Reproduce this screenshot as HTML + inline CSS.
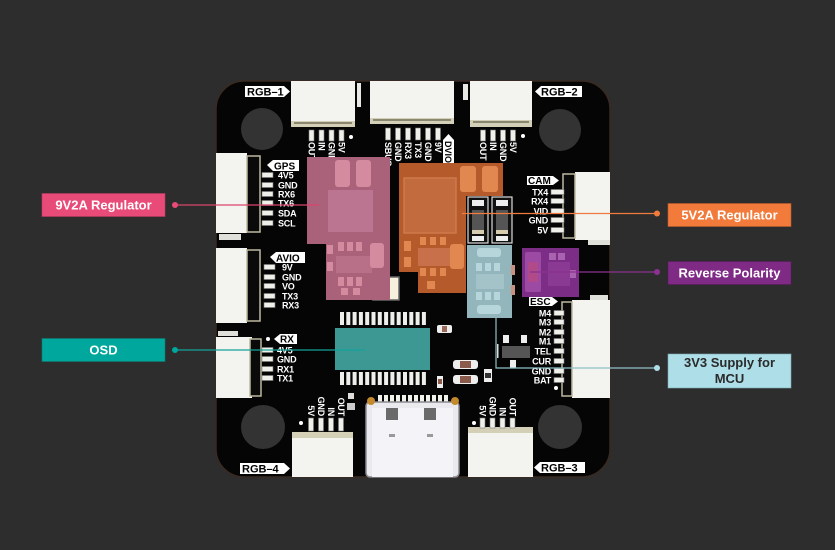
<!DOCTYPE html>
<html><head><meta charset="utf-8"><style>
html,body{margin:0;padding:0;background:#2d2d2d;}
svg{display:block}
.p{font-family:"Liberation Sans",sans-serif;font-weight:bold;font-size:9px;fill:#fff;letter-spacing:-0.2px}
.lb{font-family:"Liberation Sans",sans-serif;font-weight:bold;font-size:10px;fill:#000}
.c{font-family:"Liberation Sans",sans-serif;font-weight:bold;font-size:13px;fill:#fff}
</style></head><body>
<svg width="835" height="550" viewBox="0 0 835 550" xmlns="http://www.w3.org/2000/svg">
<rect width="835" height="550" fill="#2d2d2d"/>
<!-- board -->
<rect x="216" y="81" width="394" height="396" rx="28" fill="#050505" stroke="#3a2a22" stroke-width="1.5"/>
<!-- holes -->
<circle cx="262" cy="129" r="21" fill="#333"/>
<circle cx="560" cy="130" r="21" fill="#333"/>
<circle cx="263" cy="427" r="22" fill="#333"/>
<circle cx="560" cy="427" r="22" fill="#333"/>

<!-- top connectors -->
<rect x="291" y="81" width="64" height="41" fill="#f3f3f0"/>
<rect x="291" y="121" width="64" height="6" fill="#d4d0b8"/>
<rect x="294" y="122" width="58" height="2" fill="#8a8770"/>
<rect x="357" y="83" width="4" height="24" fill="#e8e8e4"/>
<rect x="370" y="81" width="84" height="38" fill="#f3f3f0"/>
<rect x="370" y="118" width="84" height="6" fill="#d4d0b8"/>
<rect x="373" y="119" width="78" height="2" fill="#8a8770"/>
<rect x="463" y="84" width="5" height="16" fill="#e8e8e4"/>
<rect x="470" y="81" width="62" height="40" fill="#f3f3f0"/>
<rect x="470" y="120" width="62" height="7" fill="#d4d0b8"/>
<rect x="473" y="121" width="56" height="2" fill="#8a8770"/>

<!-- top pins -->
<g fill="#f0f0ea" stroke="#777" stroke-width="0.6">
<rect x="309" y="130" width="5" height="11"/><rect x="319" y="130" width="5" height="11"/><rect x="329" y="130" width="5" height="11"/><rect x="339" y="130" width="5" height="11"/>
<rect x="385.5" y="128" width="5" height="12"/><rect x="395.5" y="128" width="5" height="12"/><rect x="405.5" y="128" width="5" height="12"/><rect x="415.5" y="128" width="5" height="12"/><rect x="425.5" y="128" width="5" height="12"/><rect x="435.5" y="128" width="5" height="12"/>
<rect x="480.5" y="130" width="5" height="11"/><rect x="490.5" y="130" width="5" height="11"/><rect x="500.5" y="130" width="5" height="11"/><rect x="510.5" y="130" width="5" height="11"/>
</g>
<circle cx="351" cy="137" r="2" fill="#fff"/>
<circle cx="523" cy="136" r="2" fill="#fff"/>
<!-- top vertical labels -->
<g class="p">
<text transform="translate(308.5,142) rotate(90)">OUT</text>
<text transform="translate(318.5,142) rotate(90)">IN</text>
<text transform="translate(328.5,142) rotate(90)">GND</text>
<text transform="translate(338.5,142) rotate(90)">5V</text>
<text transform="translate(385,142) rotate(90)">SBUS</text>
<text transform="translate(395,142) rotate(90)">GND</text>
<text transform="translate(405,142) rotate(90)">RX3</text>
<text transform="translate(415,142) rotate(90)">TX3</text>
<text transform="translate(425,142) rotate(90)">GND</text>
<text transform="translate(435,142) rotate(90)">9V</text>
<text transform="translate(480,142) rotate(90)">OUT</text>
<text transform="translate(490,142) rotate(90)">IN</text>
<text transform="translate(500,142) rotate(90)">GND</text>
<text transform="translate(510,142) rotate(90)">5V</text>
</g>
<!-- DVIO -->
<polygon points="443,140 448.5,134 454,140 454,164 443,164" fill="#fff"/>
<text class="lb" style="font-size:9px" transform="translate(445,141) rotate(90)">DVIO</text>

<!-- RGB labels -->
<polygon points="245,86 284,86 290,91.5 284,97 245,97" fill="#fff"/>
<text class="lb" x="247" y="95.5" style="font-size:11px">RGB–1</text>
<polygon points="535,91.5 541,86 582,86 582,97 541,97" fill="#fff"/>
<text class="lb" x="541" y="95.5" style="font-size:11px">RGB–2</text>
<polygon points="240,463 284,463 290,468.5 284,474 240,474" fill="#fff"/>
<text class="lb" x="242" y="472.5" style="font-size:11px">RGB–4</text>
<polygon points="534,467.5 540,462 585,462 585,473 540,473" fill="#fff"/>
<text class="lb" x="541" y="471.5" style="font-size:11px">RGB–3</text>

<!-- left connectors -->
<rect x="216" y="153" width="31" height="80" fill="#f3f3f0"/>
<rect x="247" y="156" width="13" height="76" fill="#0a0a0a" stroke="#bdb9a0" stroke-width="1.5"/>
<rect x="219" y="234" width="22" height="6" fill="#e0e0da"/>
<rect x="216" y="248" width="31" height="75" fill="#f3f3f0"/>
<rect x="247" y="250" width="13" height="71" fill="#0a0a0a" stroke="#bdb9a0" stroke-width="1.5"/>
<rect x="216" y="337" width="36" height="61" fill="#f3f3f0"/>
<rect x="250" y="339" width="11" height="57" fill="#0a0a0a" stroke="#bdb9a0" stroke-width="1.5"/>
<rect x="218" y="331" width="20" height="5" fill="#e0e0da"/>

<!-- left pin marks -->
<g fill="#f0f0ea" stroke="#777" stroke-width="0.6">
<rect x="262" y="172.5" width="11" height="5"/><rect x="262" y="182.5" width="11" height="5"/><rect x="262" y="191.5" width="11" height="5"/><rect x="262" y="200.5" width="11" height="5"/><rect x="262" y="210.5" width="11" height="5"/><rect x="262" y="220.5" width="11" height="5"/>
<rect x="264" y="264.5" width="11" height="5"/><rect x="264" y="274.5" width="11" height="5"/><rect x="264" y="283.5" width="11" height="5"/><rect x="264" y="293.5" width="11" height="5"/><rect x="264" y="302.5" width="11" height="5"/>
<rect x="262" y="347.5" width="11" height="5"/><rect x="262" y="356.5" width="11" height="5"/><rect x="262" y="366.5" width="11" height="5"/><rect x="262" y="375.5" width="11" height="5"/>
</g>
<!-- left labels -->
<polygon points="267,165 273,160 299,160 299,171 273,171" fill="#fff"/>
<text class="lb" x="274" y="169.5">GPS</text>
<polygon points="270,257 276,252 305,252 305,263 276,263" fill="#fff"/>
<text class="lb" x="276" y="261.5">AVIO</text>
<polygon points="274,339 280,334 297,334 297,344 280,344" fill="#fff"/>
<text class="lb" x="280" y="342.5">RX</text>
<circle cx="268" cy="339" r="2" fill="#fff"/>
<g class="p">
<text x="278" y="178.5">4V5</text><text x="278" y="188.5">GND</text><text x="278" y="197.5">RX6</text><text x="278" y="206.5">TX6</text><text x="278" y="216.5">SDA</text><text x="278" y="226.5">SCL</text>
<text x="282" y="270.5">9V</text><text x="282" y="280.5">GND</text><text x="282" y="289.5">VO</text><text x="282" y="299.5">TX3</text><text x="282" y="308.5">RX3</text>
<text x="277" y="353.5">4V5</text><text x="277" y="362.5">GND</text><text x="277" y="372.5">RX1</text><text x="277" y="381.5">TX1</text>
</g>

<!-- right connectors -->
<rect x="575" y="172" width="35" height="68" fill="#f3f3f0"/>
<rect x="563" y="174" width="12" height="64" fill="#0a0a0a" stroke="#bdb9a0" stroke-width="1.5"/>
<rect x="588" y="240" width="22" height="5" fill="#e0e0da"/>
<rect x="572" y="300" width="38" height="98" fill="#f3f3f0"/>
<rect x="562" y="302" width="10" height="94" fill="#0a0a0a" stroke="#bdb9a0" stroke-width="1.5"/>
<rect x="590" y="295" width="18" height="5" fill="#e0e0da"/>
<g fill="#f0f0ea" stroke="#777" stroke-width="0.6">
<rect x="551" y="189.5" width="13" height="5"/><rect x="551" y="198.5" width="13" height="5"/><rect x="551" y="208.5" width="13" height="5"/><rect x="551" y="217.5" width="13" height="5"/><rect x="551" y="227.5" width="13" height="5"/>
<rect x="554" y="310.5" width="10" height="5"/><rect x="554" y="319.5" width="10" height="5"/><rect x="554" y="329.5" width="10" height="5"/><rect x="554" y="338.5" width="10" height="5"/><rect x="554" y="348.5" width="10" height="5"/><rect x="554" y="358.5" width="10" height="5"/><rect x="554" y="368.5" width="10" height="5"/><rect x="554" y="377.5" width="10" height="5"/>
</g>
<circle cx="556" cy="388" r="2" fill="#fff"/>
<polygon points="527,176 553,176 559,180.5 553,185 527,185" fill="#fff"/>
<text class="lb" x="528" y="184">CAM</text>
<polygon points="529,297 552,297 558,301.5 552,306 529,306" fill="#fff"/>
<text class="lb" x="530" y="305">ESC</text>
<g class="p" text-anchor="end">
<text x="548" y="195.5">TX4</text><text x="548" y="204.5">RX4</text><text x="548" y="214.5">VID</text><text x="548" y="223.5">GND</text><text x="548" y="233.5">5V</text>
<text x="551" y="316.5">M4</text><text x="551" y="325.5">M3</text><text x="551" y="335.5">M2</text><text x="551" y="344.5">M1</text><text x="551" y="354.5">TEL</text><text x="551" y="364.5">CUR</text><text x="551" y="374.5">GND</text><text x="551" y="383.5">BAT</text>
</g>

<!-- bottom connectors -->
<rect x="292" y="437" width="61" height="40" fill="#f3f3f0"/>
<rect x="292" y="432" width="61" height="6" fill="#d4d0b8"/>
<rect x="468" y="432" width="65" height="45" fill="#f3f3f0"/>
<rect x="468" y="427" width="65" height="6" fill="#d4d0b8"/>
<g fill="#f0f0ea" stroke="#777" stroke-width="0.6">
<rect x="308.5" y="418" width="5" height="13"/><rect x="318.5" y="418" width="5" height="13"/><rect x="328.5" y="418" width="5" height="13"/><rect x="338.5" y="418" width="5" height="13"/>
<rect x="480" y="418" width="5" height="10"/><rect x="490" y="418" width="5" height="10"/><rect x="500" y="418" width="5" height="10"/><rect x="510" y="418" width="5" height="10"/>
</g>
<circle cx="301" cy="423" r="2" fill="#fff"/>
<circle cx="474" cy="423" r="2" fill="#fff"/>
<g class="p" text-anchor="end">
<text transform="translate(308,416) rotate(90)">5V</text>
<text transform="translate(318,416) rotate(90)">GND</text>
<text transform="translate(328,416) rotate(90)">IN</text>
<text transform="translate(338,416) rotate(90)">OUT</text>
<text transform="translate(479.5,416) rotate(90)">5V</text>
<text transform="translate(489.5,416) rotate(90)">GND</text>
<text transform="translate(499.5,416) rotate(90)">IN</text>
<text transform="translate(509.5,416) rotate(90)">OUT</text>
</g>

<!-- USB-C -->
<g fill="#f2f2ec">
<rect x="378" y="395" width="4" height="7"/><rect x="384" y="395" width="4" height="7"/><rect x="390" y="395" width="4" height="7"/><rect x="396" y="395" width="4" height="7"/><rect x="402" y="395" width="4" height="7"/><rect x="408" y="395" width="4" height="7"/><rect x="414" y="395" width="4" height="7"/><rect x="420" y="395" width="4" height="7"/><rect x="426" y="395" width="4" height="7"/><rect x="432" y="395" width="4" height="7"/><rect x="438" y="395" width="4" height="7"/><rect x="444" y="395" width="4" height="7"/>
</g>
<rect x="366" y="402" width="93" height="75" rx="4" fill="#e9e9ee" stroke="#8a8a90" stroke-width="1.5"/>
<rect x="372" y="408" width="81" height="69" fill="#f4f4f8"/>
<circle cx="371" cy="401" r="4" fill="#c3892b"/>
<circle cx="455" cy="401" r="4" fill="#c3892b"/>
<rect x="386" y="408" width="12" height="12" fill="#6a6a6a"/>
<rect x="424" y="408" width="12" height="12" fill="#6a6a6a"/>
<rect x="389" y="434" width="6" height="3" fill="#999"/>
<rect x="427" y="434" width="6" height="3" fill="#999"/>

<!-- OSD IC pins -->
<g fill="#eeeeea">
<rect x="340" y="312" width="4" height="13"/><rect x="346.3" y="312" width="4" height="13"/><rect x="352.6" y="312" width="4" height="13"/><rect x="358.9" y="312" width="4" height="13"/><rect x="365.2" y="312" width="4" height="13"/><rect x="371.5" y="312" width="4" height="13"/><rect x="377.8" y="312" width="4" height="13"/><rect x="384.1" y="312" width="4" height="13"/><rect x="390.4" y="312" width="4" height="13"/><rect x="396.7" y="312" width="4" height="13"/><rect x="403" y="312" width="4" height="13"/><rect x="409.3" y="312" width="4" height="13"/><rect x="415.6" y="312" width="4" height="13"/><rect x="421.9" y="312" width="4" height="13"/>
<rect x="340" y="372" width="4" height="13"/><rect x="346.3" y="372" width="4" height="13"/><rect x="352.6" y="372" width="4" height="13"/><rect x="358.9" y="372" width="4" height="13"/><rect x="365.2" y="372" width="4" height="13"/><rect x="371.5" y="372" width="4" height="13"/><rect x="377.8" y="372" width="4" height="13"/><rect x="384.1" y="372" width="4" height="13"/><rect x="390.4" y="372" width="4" height="13"/><rect x="396.7" y="372" width="4" height="13"/><rect x="403" y="372" width="4" height="13"/><rect x="409.3" y="372" width="4" height="13"/><rect x="415.6" y="372" width="4" height="13"/><rect x="421.9" y="372" width="4" height="13"/>
</g>
<rect x="335" y="328" width="95" height="42" fill="#3d9893"/>

<!-- small components -->
<rect x="373" y="277" width="26" height="23" fill="#f5f1dc" stroke="#666" stroke-width="1.5"/>
<rect x="437" y="325" width="15" height="8" rx="2" fill="#eee"/><rect x="442" y="326" width="5" height="6" fill="#9a6a5a"/>
<rect x="453" y="360" width="25" height="9" rx="3" fill="#eee"/><rect x="460" y="361" width="11" height="7" fill="#8a5a4a"/>
<rect x="453" y="375" width="25" height="9" rx="3" fill="#eee"/><rect x="460" y="376" width="11" height="7" fill="#8a5a4a"/>
<rect x="484" y="369" width="8" height="13" fill="#eee"/><rect x="485" y="373" width="6" height="5" fill="#333"/>
<rect x="437" y="376" width="6" height="12" fill="#eee"/><rect x="438" y="379" width="4" height="5" fill="#8a5a4a"/>
<rect x="348" y="393" width="6" height="6" fill="#ddd"/><rect x="347" y="403" width="8" height="7" fill="#ccc"/>
<rect x="502" y="346" width="28" height="12" fill="#555"/>
<rect x="503" y="335" width="6" height="8" fill="#eee"/><rect x="521" y="335" width="6" height="8" fill="#eee"/><rect x="510" y="360" width="6" height="8" fill="#eee"/>
<rect x="497" y="344" width="1.5" height="14" fill="#ddd"/>

<!-- pink 9V2A region -->
<polygon points="307,157 390,157 390,300 326,300 326,244 307,244" fill="#a9627a"/>
<rect x="328" y="190" width="45" height="42" fill="#bb7590"/>
<rect x="335" y="160" width="15" height="27" rx="3" fill="#d48ba0"/>
<rect x="356" y="160" width="15" height="27" rx="3" fill="#d48ba0"/>
<rect x="336" y="256" width="36" height="17" fill="#b87088"/>
<g fill="#d48ba0">
<rect x="338" y="242" width="6" height="9"/><rect x="347" y="242" width="6" height="9"/><rect x="356" y="242" width="6" height="9"/>
<rect x="338" y="277" width="6" height="9"/><rect x="347" y="277" width="6" height="9"/><rect x="356" y="277" width="6" height="9"/>
<rect x="370" y="243" width="14" height="25" rx="3"/>
<rect x="327" y="245" width="6" height="9"/><rect x="327" y="262" width="6" height="9"/>
<rect x="341" y="288" width="7" height="7"/><rect x="353" y="288" width="7" height="7"/>
</g>

<!-- orange 5V2A region -->
<polygon points="399,163 503,163 503,196 466,196 466,293 418,293 418,272 399,272" fill="#b55a2b"/>
<rect x="404" y="178" width="52" height="55" fill="#c26b3e" stroke="#cf7a4c" stroke-width="1.5"/>
<rect x="460" y="166" width="16" height="26" rx="3" fill="#e0884f"/>
<rect x="482" y="166" width="16" height="26" rx="3" fill="#e0884f"/>
<rect x="418" y="248" width="38" height="18" fill="#c8704a"/>
<g fill="#e0884f">
<rect x="420" y="237" width="6" height="8"/><rect x="430" y="237" width="6" height="8"/><rect x="440" y="237" width="6" height="8"/>
<rect x="420" y="268" width="6" height="8"/><rect x="430" y="268" width="6" height="8"/><rect x="440" y="268" width="6" height="8"/>
<rect x="450" y="244" width="14" height="25" rx="3"/>
<rect x="404" y="241" width="7" height="10"/><rect x="404" y="257" width="7" height="10"/>
<rect x="427" y="281" width="8" height="8"/>
</g>
<!-- black diodes -->
<g>
<rect x="468" y="197" width="20" height="46" fill="#111" stroke="#ddd" stroke-width="1.2"/>
<rect x="472" y="200" width="12" height="6" fill="#eee"/><rect x="472" y="210" width="12" height="20" fill="#555"/><rect x="472" y="230" width="12" height="4" fill="#d8ccb0"/><rect x="472" y="236" width="12" height="5" fill="#eee"/>
<rect x="492" y="197" width="20" height="46" fill="#111" stroke="#ddd" stroke-width="1.2"/>
<rect x="496" y="200" width="12" height="6" fill="#eee"/><rect x="496" y="210" width="12" height="20" fill="#555"/><rect x="496" y="230" width="12" height="4" fill="#d8ccb0"/><rect x="496" y="236" width="12" height="5" fill="#eee"/>
</g>

<!-- light blue 3V3 region -->
<rect x="467" y="245" width="45" height="73" fill="#93b6bc"/>
<g fill="#b7d6dc">
<rect x="477" y="248" width="24" height="9" rx="3"/>
<rect x="476" y="263" width="6" height="8"/><rect x="485" y="263" width="6" height="8"/><rect x="494" y="263" width="6" height="8"/>
<rect x="476" y="292" width="6" height="8"/><rect x="485" y="292" width="6" height="8"/><rect x="494" y="292" width="6" height="8"/>
<rect x="477" y="305" width="24" height="9" rx="3"/>
</g>
<rect x="476" y="274" width="28" height="15" fill="#a3c3c8"/>
<rect x="511" y="265" width="4" height="10" fill="#c89080"/><rect x="511" y="285" width="4" height="10" fill="#c89080"/>

<!-- purple reverse polarity -->
<rect x="522" y="248" width="57" height="49" fill="#7c2d85"/>
<rect x="525" y="252" width="16" height="40" rx="2" fill="#9c4aa4"/>
<rect x="528" y="262" width="10" height="20" fill="#b04a8a"/>
<rect x="548" y="262" width="22" height="24" fill="#8a3a92"/>
<rect x="549" y="253" width="7" height="7" fill="#a862b0"/><rect x="558" y="253" width="7" height="7" fill="#a862b0"/>
<rect x="570" y="270" width="6" height="8" fill="#a862b0"/>

<!-- connector lines -->
<line x1="175" y1="205" x2="319" y2="205" stroke="#d9456d" stroke-width="1.2"/>
<circle cx="175" cy="205" r="3" fill="#e94b78"/>
<line x1="175" y1="350" x2="365" y2="350" stroke="#13a39a" stroke-width="1.2"/>
<circle cx="175" cy="350" r="3" fill="#00a79d"/>
<line x1="462" y1="213.5" x2="657" y2="213.5" stroke="#f07b3f" stroke-width="1.2"/>
<circle cx="657" cy="213.5" r="3" fill="#f27b3c"/>
<line x1="530" y1="272" x2="657" y2="272" stroke="#8a3290" stroke-width="1.2"/>
<circle cx="657" cy="272" r="3" fill="#8a3290"/>
<polyline points="496,318 496,368 657,368" fill="none" stroke="#8fc0c8" stroke-width="1.2"/>
<circle cx="657" cy="368" r="3" fill="#aedfe8"/>

<!-- callout boxes -->
<rect x="42" y="193.5" width="123" height="23" fill="#e94b78" stroke="#b83a60" stroke-width="0.6"/>
<text class="c" x="103.5" y="209.5" text-anchor="middle">9V2A Regulator</text>
<rect x="42" y="338.5" width="123" height="23" fill="#00a79d" stroke="#0a7a72" stroke-width="0.6"/>
<text class="c" x="103.5" y="354.5" text-anchor="middle">OSD</text>
<rect x="668" y="203.5" width="123" height="23" fill="#f27b3c" stroke="#b85a2a" stroke-width="0.6"/>
<text class="c" x="729.5" y="219.5" text-anchor="middle">5V2A Regulator</text>
<rect x="668" y="261.5" width="123" height="23" fill="#7f2b86" stroke="#5a1a60" stroke-width="0.6"/>
<text class="c" x="729.5" y="277.5" text-anchor="middle">Reverse Polarity</text>
<rect x="668" y="354" width="123" height="34" fill="#aedfe8" stroke="#7aa8b0" stroke-width="0.6"/>
<text class="c" x="729.5" y="367" text-anchor="middle" style="fill:#2a2a2a">3V3 Supply for</text>
<text class="c" x="729.5" y="383" text-anchor="middle" style="fill:#2a2a2a">MCU</text>
</svg>
</body></html>
